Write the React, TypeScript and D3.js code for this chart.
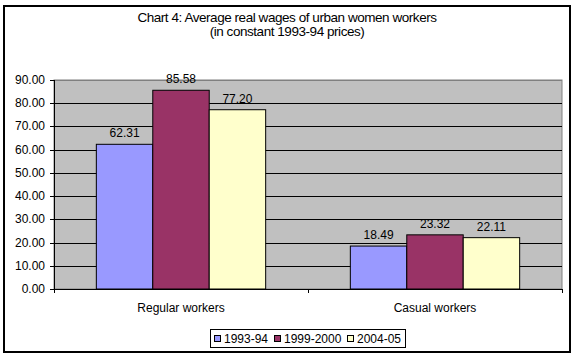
import React from "react";
import * as d3 from "d3";

const categories = ["Regular workers", "Casual workers"];
const seriesNames = ["1993-94", "1999-2000", "2004-05"];
const series9394 = [62.31, 18.49];
const series9900 = [85.58, 23.32];
const series0405 = [77.2, 22.11];
const yTicks = [0, 10, 20, 30, 40, 50, 60, 70, 80, 90];
const titleLines = ["Chart 4: Average real wages of urban women workers", "(in constant 1993-94 prices)"];
const colors = ["#9999FF", "#993366", "#FFFFCC"];

const W = 575;
const H = 357;
const plot = { left: 54, right: 562, top: 80, bottom: 289 };
const font = "'Liberation Sans', Arial, sans-serif";

export default function App() {
  const values = [series9394, series9900, series0405];
  const y = d3.scaleLinear().domain([0, 90]).range([plot.bottom, plot.top]);
  const x0 = d3.scaleBand<string>().domain(categories).range([plot.left, plot.right]).padding(0);
  const bw = x0.bandwidth() / 4.5;
  const x1 = d3.scaleBand<string>().domain(seriesNames).range([0.75 * bw, 3.75 * bw]).padding(0);

  // legend layout
  const legendX = 210;
  const legendY = 329;
  const textW = [44, 57, 44];
  let cursor = legendX + 4;
  const legendItems = seriesNames.map((s, i) => {
    const item = { s, i, sq: cursor, tx: cursor + 10 };
    cursor = cursor + 10 + textW[i] + 6;
    return item;
  });
  const legendW = cursor - legendX - 2;

  return (
    <svg width={W} height={H} style={{ position: "absolute", left: 0, top: 0, background: "#fff" }} fontFamily={font}>
      <rect x={4} y={6} width={566} height={346} fill="#fff" stroke="#000" strokeWidth={2} />
      {titleLines.map((t, i) => (
        <text key={i} x={287} y={22 + i * 14} textAnchor="middle" fontSize={13.5} letterSpacing={-0.45} fill="#000">
          {t}
        </text>
      ))}
      <rect x={plot.left} y={plot.top} width={plot.right - plot.left} height={plot.bottom - plot.top} fill="#C0C0C0" stroke="#808080" strokeWidth={1} />
      {yTicks.filter((t) => t > 0).map((t) => (
        <line key={t} x1={plot.left} x2={plot.right} y1={Math.round(y(t)) + 0.5} y2={Math.round(y(t)) + 0.5} stroke={t === 90 ? "#808080" : "#000"} strokeWidth={1} />
      ))}
      {/* y axis */}
      <line x1={plot.left + 0.5} x2={plot.left + 0.5} y1={plot.top} y2={plot.bottom} stroke="#000" />
      {yTicks.map((t) => (
        <g key={t}>
          <line x1={plot.left - 4} x2={plot.left} y1={Math.round(y(t)) + 0.5} y2={Math.round(y(t)) + 0.5} stroke="#000" />
          <text x={45} y={y(t) + 4} textAnchor="end" fontSize={12} fill="#000">
            {d3.format(".2f")(t)}
          </text>
        </g>
      ))}
      {/* bars */}
      {categories.map((c, ci) => (
        <g key={c}>
          {seriesNames.map((s, si) => {
            const v = values[si][ci];
            const bx = (x0(c) as number) + (x1(s) as number);
            const by = y(v);
            return (
              <g key={s}>
                <rect x={bx} y={by} width={x1.bandwidth()} height={plot.bottom - by} fill={colors[si]} stroke="#000" strokeWidth={1} />
                <text x={bx + x1.bandwidth() / 2} y={by - 7} textAnchor="middle" fontSize={12} fill="#000">
                  {d3.format(".2f")(v)}
                </text>
              </g>
            );
          })}
          <text x={(x0(c) as number) + x0.bandwidth() / 2} y={312} textAnchor="middle" fontSize={12} fill="#000">
            {c}
          </text>
        </g>
      ))}
      {/* x axis */}
      <line x1={plot.left} x2={plot.right} y1={plot.bottom + 0.5} y2={plot.bottom + 0.5} stroke="#000" />
      {[...categories.map((c) => x0(c) as number), plot.right].map((t, i) => (
        <line key={i} x1={Math.round(t) + 0.5} x2={Math.round(t) + 0.5} y1={plot.bottom} y2={plot.bottom + 4} stroke="#000" />
      ))}
      {/* legend */}
      <rect x={legendX + 0.5} y={legendY + 0.5} width={legendW} height={18} fill="#fff" stroke="#000" strokeWidth={1} />
      {legendItems.map((it) => (
        <g key={it.s}>
          <rect x={it.sq + 0.5} y={legendY + 6.5} width={6} height={6} fill={colors[it.i]} stroke="#000" strokeWidth={1} />
          <text x={it.tx} y={legendY + 14} fontSize={12} fill="#000">
            {it.s}
          </text>
        </g>
      ))}
    </svg>
  );
}
